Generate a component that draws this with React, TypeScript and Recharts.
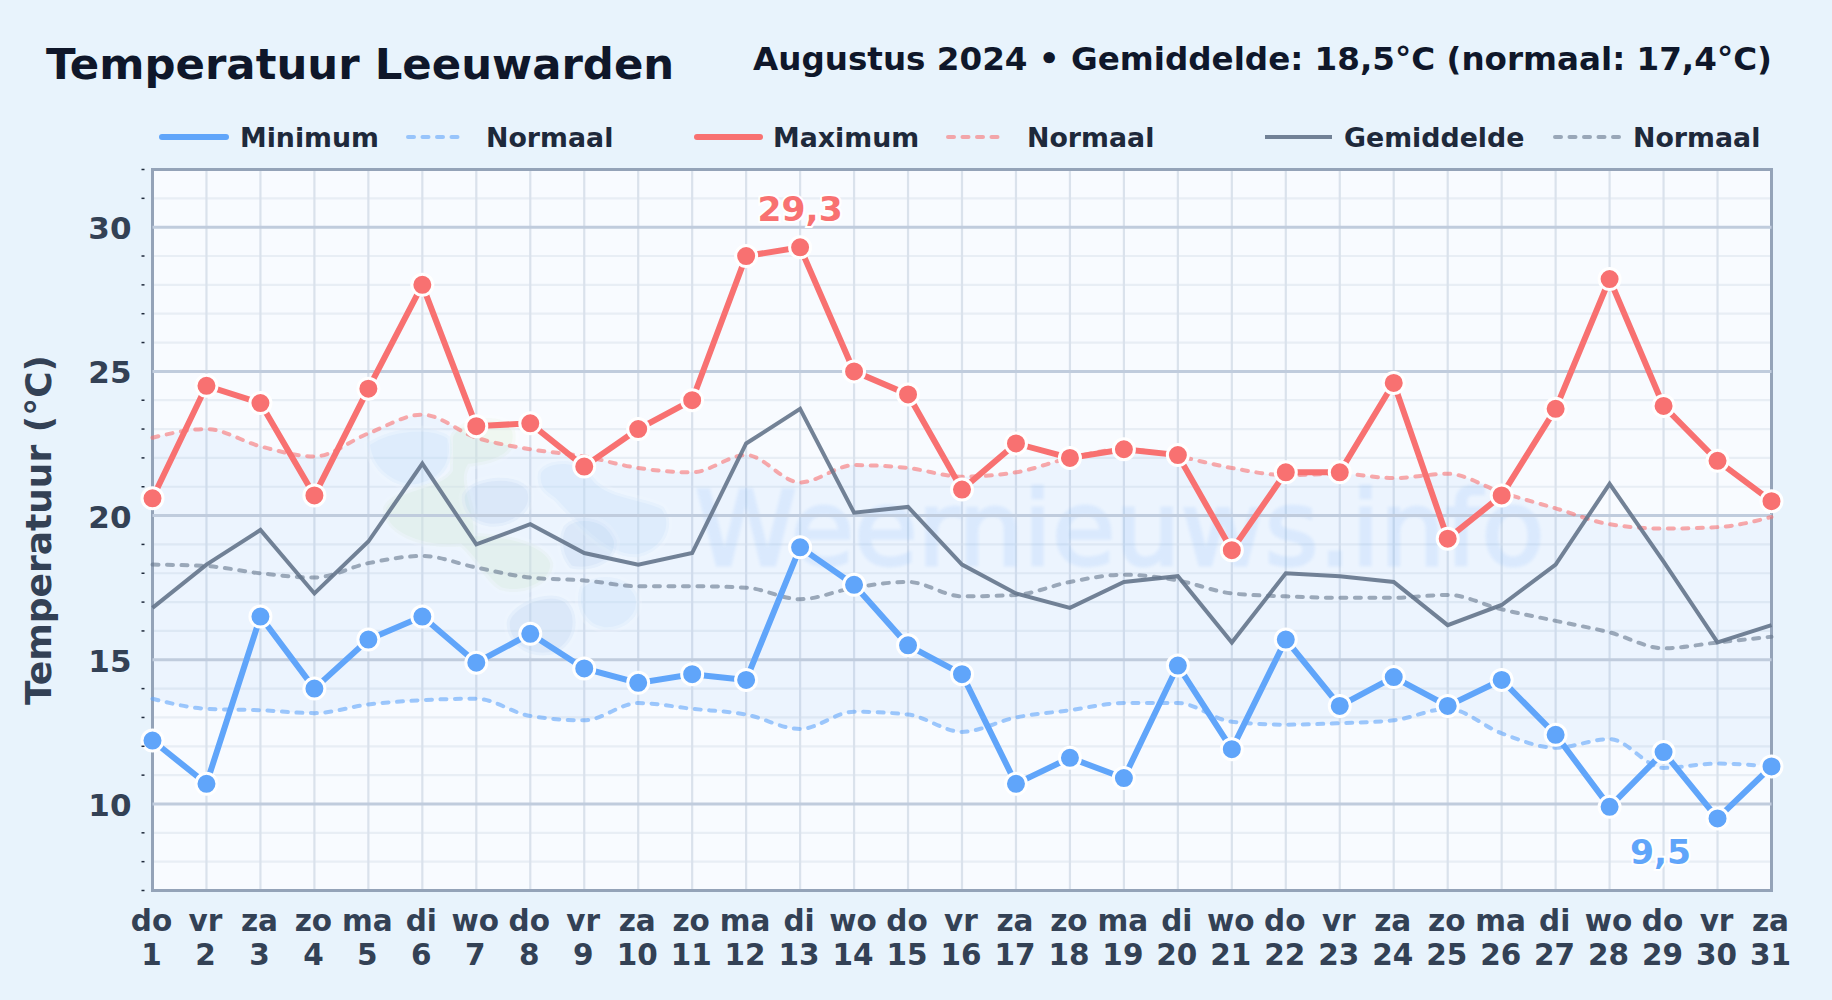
import {
  ComposedChart,
  Line,
  Area,
  XAxis,
  YAxis,
  CartesianGrid,
  ReferenceLine,
  ReferenceArea,
  Legend,
  Customized,
} from 'recharts';

const weekdays = ['do', 'vr', 'za', 'zo', 'ma', 'di', 'wo', 'do', 'vr', 'za', 'zo', 'ma', 'di', 'wo', 'do', 'vr', 'za', 'zo', 'ma', 'di', 'wo', 'do', 'vr', 'za', 'zo', 'ma', 'di', 'wo', 'do', 'vr', 'za'];
const maxTemps = [20.6, 24.5, 23.9, 20.7, 24.4, 28.0, 23.1, 23.2, 21.7, 23.0, 24.0, 29.0, 29.3, 25.0, 24.2, 20.9, 22.5, 22.0, 22.3, 22.1, 18.8, 21.5, 21.5, 24.6, 19.2, 20.7, 23.7, 28.2, 23.8, 21.9, 20.5];
const minTemps = [12.2, 10.7, 16.5, 14.0, 15.7, 16.5, 14.9, 15.9, 14.7, 14.2, 14.5, 14.3, 18.9, 17.6, 15.5, 14.5, 10.7, 11.6, 10.9, 14.8, 11.9, 15.7, 13.4, 14.4, 13.4, 14.3, 12.4, 9.9, 11.8, 9.5, 11.3];
const avgTemps = [16.8, 18.3, 19.5, 17.3, 19.1, 21.8, 19.0, 19.7, 18.7, 18.3, 18.7, 22.5, 23.7, 20.1, 20.3, 18.3, 17.3, 16.8, 17.7, 17.9, 15.6, 18.0, 17.9, 17.7, 16.2, 16.9, 18.3, 21.1, 18.4, 15.6, 16.2];
const normalMax = [22.7, 23.0, 22.4, 22.05, 22.85, 23.5, 22.7, 22.3, 22.05, 21.65, 21.5, 22.1, 21.15, 21.75, 21.65, 21.35, 21.5, 22.0, 22.3, 22.05, 21.65, 21.4, 21.45, 21.3, 21.45, 20.8, 20.25, 19.7, 19.55, 19.6, 19.95];
const normalAvg = [18.3, 18.25, 18.0, 17.85, 18.35, 18.6, 18.2, 17.85, 17.75, 17.55, 17.55, 17.5, 17.1, 17.5, 17.7, 17.2, 17.25, 17.7, 17.95, 17.75, 17.3, 17.2, 17.15, 17.15, 17.25, 16.75, 16.35, 15.95, 15.4, 15.6, 15.8];
const normalMin = [13.65, 13.3, 13.25, 13.15, 13.45, 13.6, 13.65, 13.05, 12.9, 13.5, 13.3, 13.1, 12.6, 13.2, 13.1, 12.5, 13.0, 13.25, 13.5, 13.5, 12.85, 12.75, 12.8, 12.9, 13.3, 12.45, 11.95, 12.25, 11.25, 11.4, 11.3];

const yTicks = [7, 8, 9, 10, 11, 12, 13, 14, 15, 16, 17, 18, 19, 20, 21, 22, 23, 24, 25, 26, 27, 28, 29, 30, 31, 32];
const majorTicks = [10, 15, 20, 25, 30];
const minorGrid = yTicks.filter((t) => !majorTicks.includes(t));

const data = weekdays.map((wd, i) => ({
  day: String(i + 1),
  wd,
  max: maxTemps[i],
  min: minTemps[i],
  avg: avgTemps[i],
  nMax: normalMax[i],
  nAvg: normalAvg[i],
  nMin: normalMin[i],
  band: [normalMin[i], normalMax[i]],
}));

const FONT = '"DejaVu Sans", sans-serif';
const BLUE = '#60a5fa';
const RED = '#f87171';
const GREY = '#64748b';
const LABEL = '#334155';
const DASH = '6 8.5';

const legendItems = [
  { label: 'Minimum', color: BLUE, width: 6, dash: '', opacity: 1, x1: 162, x2: 226, tx: 240 },
  { label: 'Normaal', color: BLUE, width: 4, dash: DASH, opacity: 0.6, x1: 408, x2: 465, tx: 486 },
  { label: 'Maximum', color: RED, width: 6, dash: '', opacity: 1, x1: 697, x2: 760, tx: 773 },
  { label: 'Normaal', color: RED, width: 4, dash: DASH, opacity: 0.6, x1: 948, x2: 1005, tx: 1027 },
  { label: 'Gemiddelde', color: GREY, width: 4, dash: '', opacity: 0.9, x1: 1265, x2: 1332, tx: 1344 },
  { label: 'Normaal', color: GREY, width: 4, dash: DASH, opacity: 0.6, x1: 1555, x2: 1619, tx: 1633 },
];

function ChartLegend() {
  return (
    <svg width={1832} height={40} style={{ display: 'block' }}>
      {legendItems.map((it) => (
        <g key={it.x1}>
          <line x1={it.x1} x2={it.x2} y1={19} y2={19} stroke={it.color} strokeWidth={it.width} strokeDasharray={it.dash} strokeOpacity={it.opacity} strokeLinecap={it.dash ? 'round' : it.color === GREY ? 'butt' : 'round'} />
          <text x={it.tx} y={28.5} fontFamily={FONT} fontWeight={700} fontSize={26.8} fill="#1e293b">{it.label}</text>
        </g>
      ))}
    </svg>
  );
}

function YTick({ x, y, payload }: any) {
  const major = majorTicks.includes(payload.value);
  if (major) {
    return <text x={x - 13} y={y + 12} textAnchor="end" fontFamily={FONT} fontWeight={700} fontSize={31} fill={LABEL}>{payload.value}</text>;
  }
  return <line x1={x - 3} x2={x} y1={y} y2={y} stroke="#1e293b" strokeWidth={1.5} />;
}

function XTick({ x, y, payload, index }: any) {
  return (
    <text textAnchor="middle" fontFamily={FONT} fontWeight={700} fontSize={29.5} fill={LABEL}>
      <tspan x={x - 1} y={y + 32}>{weekdays[index]}</tspan>
      <tspan x={x - 1} y={y + 66}>{payload.value}</tspan>
    </text>
  );
}

function Watermark() {
  return (
    <g>
      <g transform="translate(360 400) scale(0.3333)" filter="url(#soft)">
        <g opacity={0.4} fill="#d2e7fb" stroke="#fff" strokeOpacity={0.5} strokeWidth={18}>
          <path d="M20 130 C90 80 220 70 270 110 C290 170 260 240 180 260 C110 270 30 220 20 130 Z" />
          <path d="M535 215 C560 170 670 170 700 230 C740 290 860 290 910 320 C950 370 920 450 840 470 C740 490 620 340 580 300 C550 280 525 260 535 215 Z" />
          <path d="M660 560 C700 515 810 520 835 590 C850 650 790 695 730 690 C670 680 640 620 660 560 Z" />
        </g>
        <g opacity={0.4} fill="#e2f0da" stroke="#fff" strokeOpacity={0.5} strokeWidth={18}>
          <path d="M270 110 C290 50 430 30 465 90 C480 160 420 190 330 200 C300 250 350 300 350 400 C420 400 560 420 580 490 C580 560 480 590 420 570 C380 550 340 470 300 440 C180 450 60 400 70 320 C100 260 240 260 270 210 Z" />
        </g>
        <g opacity={0.35} fill="#c6dbf1" stroke="#fff" strokeOpacity={0.5} strokeWidth={18}>
          <path d="M305 290 C310 235 470 205 510 270 C530 330 460 385 390 380 C340 375 305 340 305 290 Z" />
          <path d="M610 380 C640 340 740 340 770 420 C780 490 690 520 630 505 C600 470 590 420 610 380 Z" />
          <path d="M440 670 C440 620 560 560 620 600 C660 640 660 720 590 760 C510 785 440 735 440 670 Z" />
        </g>
      </g>
      <text x={695} y={565} fontFamily={FONT} fontWeight={400} fontSize={103} fill="#60a5fa" stroke="#60a5fa" strokeWidth={3} opacity={0.12} filter="url(#soft)">Weernieuws.info</text>
    </g>
  );
}

const peakLabel = (values: number[], pick: number, dx: number, dy: number, color: string) => (props: any) => {
  if (values[props.index] !== pick) return null;
  return (
    <text x={props.x + dx} y={props.y + dy} textAnchor="middle" fontFamily={FONT} fontWeight={700} fontSize={34.5} fill={color} stroke="#fff" strokeWidth={4} paintOrder="stroke">
      {String(pick).replace('.', ',')}
    </text>
  );
};

const dotStyle = (color: string) => ({ r: 10.5, fill: color, stroke: '#fff', strokeWidth: 3, fillOpacity: 1 });

export default function App() {
  return (
    <div style={{ position: 'absolute', left: 0, top: 0, width: 1832, height: 1000, background: '#e8f3fc' }}>
      <div style={{ position: 'absolute', left: 46, top: 39, fontFamily: FONT, fontWeight: 700, fontSize: 43.4, color: '#0f172a', whiteSpace: 'nowrap' }}>Temperatuur Leeuwarden</div>
      <div style={{ position: 'absolute', right: 60, top: 40, fontFamily: FONT, fontWeight: 700, fontSize: 32.6, color: '#0f172a', whiteSpace: 'nowrap' }}>Augustus 2024 • Gemiddelde: 18,5°C (normaal: 17,4°C)</div>
      <ComposedChart width={1832} height={1000} data={data} margin={{ top: 129.5, right: 60.5, bottom: 0, left: 52.5 }} style={{ position: 'absolute', left: 0, top: 0 }}>
        <defs>
          <filter id="soft"><feGaussianBlur stdDeviation="1.5" /></filter>
        </defs>
        <CartesianGrid horizontalValues={minorGrid} vertical={false} stroke="#e8eef5" strokeWidth={2.2} fill="#f8fbff" fillOpacity={1} />
        <CartesianGrid horizontal={false} vertical stroke="#dae2ec" strokeWidth={2.2} />
        <Customized component={Watermark} />
        <Area dataKey="band" type="monotone" stroke="none" fill="#3b82f6" fillOpacity={0.06} isAnimationActive={false} legendType="none" />
        {majorTicks.map((t) => (
          <ReferenceLine key={t} y={t} stroke="#c0ccdd" strokeWidth={3} />
        ))}
        <XAxis dataKey="day" scale="point" interval={0} tick={<XTick />} tickLine={false} axisLine={false} height={109.5} />
        <YAxis domain={[7, 32]} ticks={yTicks} interval={0} width={100} tick={<YTick />} tickLine={false} axisLine={false}
          label={{ value: 'Temperatuur (°C)', angle: -90, position: 'insideLeft', dx: -19, style: { fontFamily: FONT, fontWeight: 700, fontSize: 36, fill: LABEL, textAnchor: 'middle' } }} />
        <Legend verticalAlign="top" content={<ChartLegend />} wrapperStyle={{ left: 0, top: 118, width: 1832 }} />
        <ReferenceArea x1="1" x2="31" y1={7} y2={32} fill="none" stroke="#94a3b8" strokeWidth={3} />
        <Line dataKey="nMin" type="monotone" stroke={BLUE} strokeOpacity={0.6} strokeWidth={4} strokeDasharray={DASH} strokeLinecap="round" dot={false} isAnimationActive={false} />
        <Line dataKey="nMax" type="monotone" stroke={RED} strokeOpacity={0.6} strokeWidth={4} strokeDasharray={DASH} strokeLinecap="round" dot={false} isAnimationActive={false} />
        <Line dataKey="nAvg" type="monotone" stroke={GREY} strokeOpacity={0.6} strokeWidth={4} strokeDasharray={DASH} strokeLinecap="round" dot={false} isAnimationActive={false} />
        <Line dataKey="avg" type="linear" stroke={GREY} strokeOpacity={0.9} strokeWidth={4} dot={false} isAnimationActive={false} />
        <Line dataKey="min" type="linear" stroke={BLUE} strokeWidth={6} dot={dotStyle(BLUE)} label={peakLabel(minTemps, 9.5, -57, 46, BLUE)} isAnimationActive={false} />
        <Line dataKey="max" type="linear" stroke={RED} strokeWidth={6} dot={dotStyle(RED)} label={peakLabel(maxTemps, 29.3, 0, -26, RED)} isAnimationActive={false} />
      </ComposedChart>
    </div>
  );
}
